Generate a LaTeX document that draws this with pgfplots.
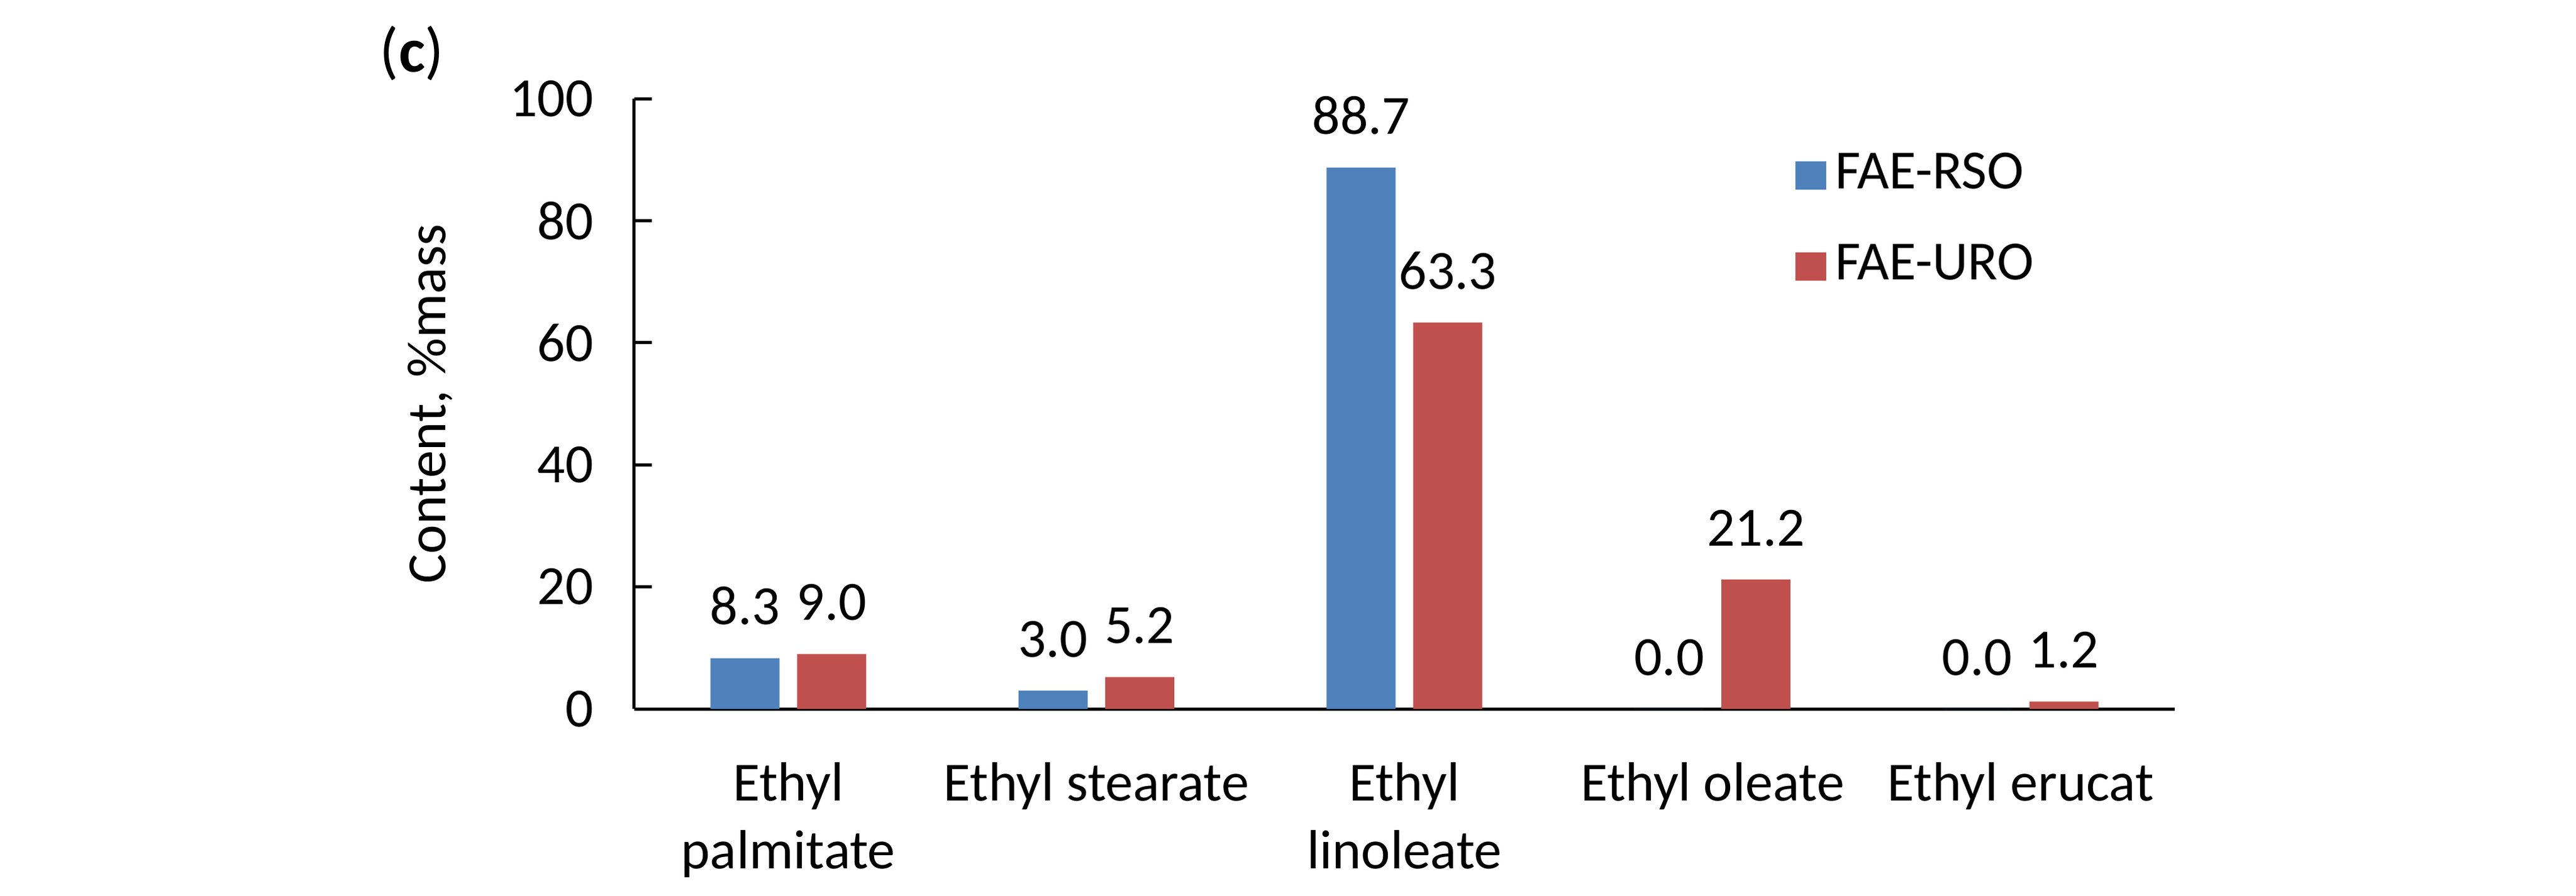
\documentclass[border=0pt]{standalone}
\usepackage{fontspec}
\setmainfont{Carlito}
\usepackage{pgfplots}
\pgfplotsset{compat=1.18}
\definecolor{rso}{HTML}{4F81BD}
\definecolor{uro}{HTML}{C0504D}
\begin{document}
\begin{tikzpicture}
\path[use as bounding box] (0,0) rectangle (410.2pt,142.6pt);
\begin{axis}[
  at={(101.0pt,29.7pt)}, anchor=south west,
  scale only axis, width=245.3pt, height=97.2pt,
  font=\fontsize{8.8}{10.8}\selectfont,
  /pgf/number format/assume math mode=true,
  ybar=2.8pt, bar width=11pt,
  xmin=-0.5, xmax=4.5, ymin=0, ymax=100,
  axis x line*=bottom, axis y line*=left,
  axis line style={-, black, line width=0.5pt},
  xtick=data,
  xticklabels={{Ethyl\\palmitate},{Ethyl stearate},{Ethyl\\linoleate},{Ethyl oleate},{Ethyl erucat}},
  xticklabel style={align=center, anchor=north, inner sep=0pt, yshift=-8.3pt},
  x tick style={draw=none},
  ytick={0,20,40,60,80,100},
  tick align=inside, major tick length=2.8pt,
  y tick style={black, line width=0.5pt},
  yticklabel style={anchor=east, inner sep=0pt, xshift=-6.3pt},
  ylabel={Content, \%mass},
  ylabel style={at={(axis description cs:-0.1325,0.5)}, anchor=center},
  nodes near coords,
  nodes near coords style={anchor=south, inner sep=0pt, yshift=5.1pt, font=\fontsize{8.8}{10.8}\selectfont,
    /pgf/number format/.cd, fixed, fixed zerofill, precision=1},
  legend image code/.code={\fill[#1] (0pt,-2.25pt) rectangle (4.9pt,2.25pt);},
  legend style={draw=none, fill=none, at={(axis description cs:0.753,0.799)}, anchor=west,
    inner sep=0pt, row sep=4.5pt, font=\fontsize{8.8}{10.8}\selectfont,
    nodes={inner sep=1.4pt}},
  legend cell align=left,
  clip=false,
]
\addplot[fill=rso, draw=none] coordinates {(0,8.3) (1,3.0) (2,88.7) (3,0.0) (4,0.0)};
\addplot[fill=uro, draw=none] coordinates {(0,9.0) (1,5.2) (2,63.3) (3,21.2) (4,1.2)};
\legend{FAE-RSO,FAE-URO}
\end{axis}
\node at (65.6pt,134.1pt) {\fontsize{10}{12}\selectfont(\textbf{c})};
\end{tikzpicture}
\end{document}
